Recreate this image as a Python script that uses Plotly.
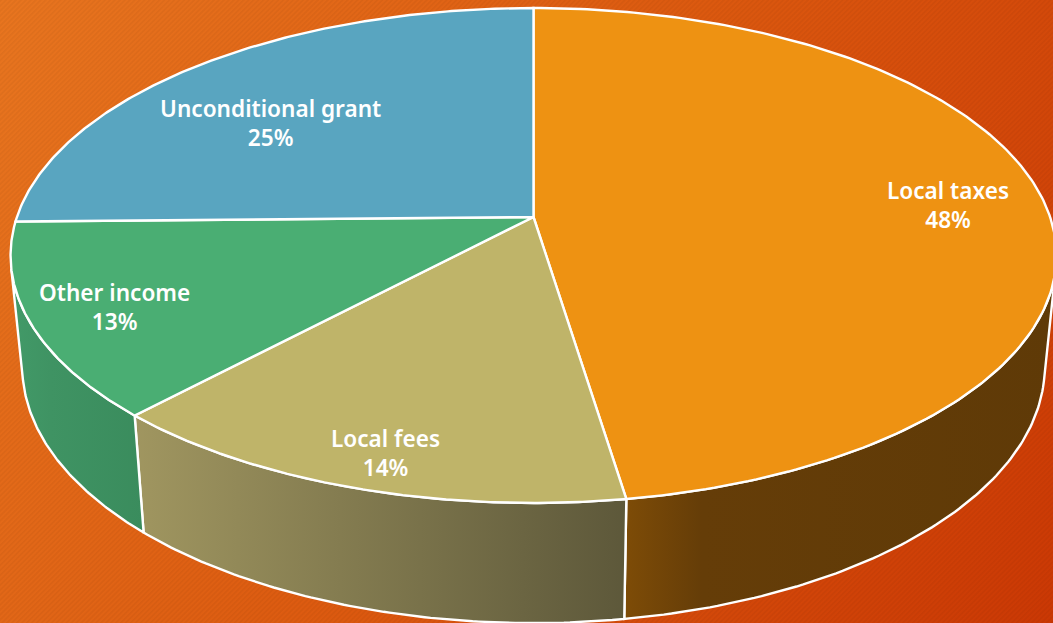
import base64
import numpy as np
import plotly.graph_objects as go

# Data
categories = ["Local taxes", "Local fees", "Other income", "Unconditional grant"]
shares = [47.57, 14.43, 12.7, 25.3]

# Styles
top_colors = ["#EE9212", "#BFB469", "#4AAE73", "#59A5C0"]
wall_scales = [
    [[0, "#7E4C07"], [0.18, "#653D08"], [1, "#5F3A07"]],
    [[0, "#A09660"], [1, "#5D583A"]],
    [[0, "#429A68"], [0.3, "#3F9363"], [1, "#3A8C5D"]],
    None,
]
label_x = [948, 385, 114, 270]
label_y = [205, 452.5, 307, 123]

W, H = 1053, 623
CX = 533.5
TOP = dict(cy=217.0, a=516.6, b=241.5, k=0.1555)
BOT = dict(cy=326.8, a=505.0, b=250.2, k=0.1555)
SIDE_R, SIDE_L = 102.0, 258.0


def rim(theta_deg, p):
    t = np.radians(theta_deg)
    u, v = np.sin(t), -np.cos(t)
    w = 1 - p["k"] * v
    return CX + p["a"] * u / w, p["cy"] + p["b"] * v / w


bg_svg = f"""<svg xmlns='http://www.w3.org/2000/svg' width='{W}' height='{H}'>
<defs>
<linearGradient id='g' gradientUnits='userSpaceOnUse' x1='0' y1='0' x2='{W}' y2='{H}'>
<stop offset='0' stop-color='#E8751F'/><stop offset='0.5' stop-color='#DC590F'/><stop offset='1' stop-color='#CB3804'/>
</linearGradient>
<pattern id='p' width='3.5' height='3.5' patternUnits='userSpaceOnUse' patternTransform='rotate(-45)'>
<rect width='3.5' height='1.6' fill='#000' fill-opacity='0.04'/>
</pattern>
</defs>
<rect width='{W}' height='{H}' fill='url(#g)'/>
<rect width='{W}' height='{H}' fill='url(#p)'/>
</svg>"""
bg_uri = "data:image/svg+xml;base64," + base64.b64encode(bg_svg.encode()).decode()

fig = go.Figure()

edges = np.concatenate([[0], np.cumsum(shares) / np.sum(shares) * 360])

# Walls
for i in range(len(categories)):
    if wall_scales[i] is None:
        continue
    a0 = max(edges[i], SIDE_R)
    a1 = min(edges[i + 1], SIDE_L)
    th = np.linspace(a0, a1, 90)
    xt, yt = rim(th, TOP)
    xb, yb = rim(th[::-1], BOT)
    fig.add_trace(go.Scatter(
        x=np.concatenate([xt, xb, xt[:1]]), y=np.concatenate([yt, yb, yt[:1]]),
        mode="lines", fill="toself",
        fillgradient=dict(type="horizontal", colorscale=wall_scales[i]),
        line=dict(color="white", width=2.4), hoverinfo="skip", showlegend=False,
    ))

# Top slices
for i, name in enumerate(categories):
    th = np.linspace(edges[i], edges[i + 1], 200)
    xr, yr = rim(th, TOP)
    fig.add_trace(go.Scatter(
        x=np.concatenate([[CX], xr, [CX]]), y=np.concatenate([[TOP["cy"]], yr, [TOP["cy"]]]),
        mode="lines", fill="toself", fillcolor=top_colors[i],
        line=dict(color="white", width=2.4), name=name, showlegend=False,
        hovertemplate=f"{name}: {shares[i]:.0f}%<extra></extra>",
    ))

for name, s, x, y in zip(categories, shares, label_x, label_y):
    fig.add_annotation(
        x=x, y=y, text=f"{name}<br>{s / sum(shares) * 100:.0f}%", showarrow=False,
        font=dict(family="Noto Sans", size=22.6, color="white", weight=600),
        xanchor="center", yanchor="middle", align="center",
    )

fig.update_layout(
    width=W, height=H, margin=dict(l=0, r=0, t=0, b=0),
    paper_bgcolor="#DC590F", plot_bgcolor="rgba(0,0,0,0)",
    xaxis=dict(range=[0, W], visible=False, fixedrange=True),
    yaxis=dict(range=[H, 0], visible=False, fixedrange=True),
    images=[dict(source=bg_uri, xref="x", yref="y", x=0, y=0, sizex=W, sizey=H,
                 sizing="stretch", layer="below", xanchor="left", yanchor="top")],
)

fig.write_html("out.html", config={"displayModeBar": False},
               post_script="document.body.style.margin='0';document.body.style.overflow='hidden';")
